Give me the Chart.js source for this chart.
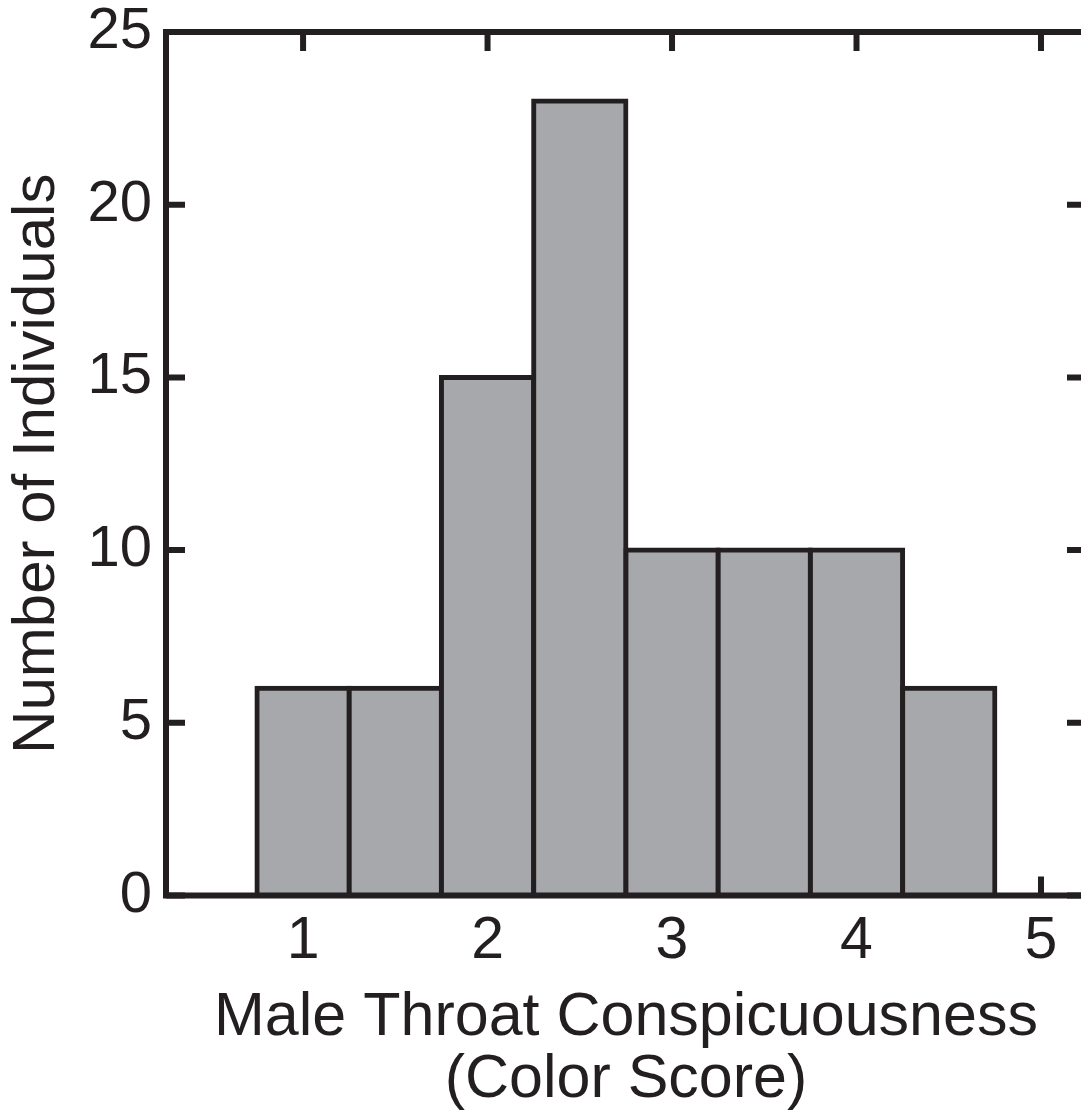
<!DOCTYPE html>
<html>
<head>
<meta charset="utf-8">
<script src="https://cdn.jsdelivr.net/npm/chart.js@4"></script>
<style>
  html, body { margin: 0; padding: 0; background: #fff; overflow: hidden; }
  #wrap { width: 1095px; height: 1116px; }
</style>
</head>
<body>
<div id="wrap"><canvas id="histChart" width="1095" height="1116"></canvas></div>
<script>
// data
var binCenters = [1, 1.5, 2, 2.5, 3, 3.5, 4, 4.5];
var counts = [6, 6, 15, 23, 10, 10, 10, 6];
var xTicks = [1, 2, 3, 4, 5];
var yTicks = [0, 5, 10, 15, 20, 25];

var ink = '#231f20';
var fontFam = "'Liberation Sans', Arial, Helvetica, sans-serif";

// inward ticks + box frame
var framePlugin = {
    id: 'frame',
    beforeDatasetsDraw: function(chart) {
        var ctx = chart.ctx, a = chart.chartArea;
        var xs = chart.scales.x, ys = chart.scales.y;
        var len = 19;
        ctx.save();
        ctx.strokeStyle = ink;
        ctx.lineWidth = 6;
        ctx.lineCap = 'butt';
        ctx.beginPath();
        xTicks.forEach(function(v) {
            var px = xs.getPixelForValue(v);
            ctx.moveTo(px, a.top); ctx.lineTo(px, a.top + len);
            ctx.moveTo(px, a.bottom); ctx.lineTo(px, a.bottom - len);
        });
        yTicks.forEach(function(v) {
            var py = ys.getPixelForValue(v);
            ctx.moveTo(a.left, py); ctx.lineTo(a.left + len, py);
            ctx.moveTo(a.right, py); ctx.lineTo(a.right - len, py);
        });
        ctx.stroke();
        ctx.restore();
    },
    afterDatasetsDraw: function(chart) {
        var ctx = chart.ctx, a = chart.chartArea;
        ctx.save();
        ctx.strokeStyle = ink;
        ctx.lineWidth = 6;
        ctx.strokeRect(a.left, a.top, a.right - a.left, a.bottom - a.top);
        ctx.restore();
    }
};

var ctx = document.getElementById('histChart').getContext('2d');
var histChart = new Chart(ctx, {
    type: 'bar',
    data: {
        datasets: [{
            data: binCenters.map(function(x, i) { return { x: x, y: counts[i] }; }),
            backgroundColor: '#a7a8ab',
            borderColor: ink,
            borderWidth: 5,
            inflateAmount: 2.5,
            barPercentage: 1,
            categoryPercentage: 1
        }]
    },
    options: {
        responsive: false,
        animation: false,
        layout: { padding: 0 },
        plugins: {
            legend: { display: false },
            tooltip: { enabled: false }
        },
        scales: {
            x: {
                type: 'linear',
                position: 'bottom',
                offset: false,
                min: 0.257,
                max: 5.244,
                afterBuildTicks: function(s) { s.ticks = xTicks.map(function(v) { return { value: v }; }); },
                afterFit: function(s) { s.height = 220.5; s.paddingLeft = 0; s.paddingRight = 0; },
                grid: { display: false, drawTicks: false },
                border: { display: false },
                ticks: {
                    color: ink,
                    padding: 17,
                    font: { family: fontFam, size: 59, lineHeight: 1 },
                    maxRotation: 0
                },
                title: {
                    display: true,
                    text: ['Male Throat Conspicuousness', '(Color Score)'],
                    color: ink,
                    font: { family: fontFam, size: 61, lineHeight: 1.01 },
                    padding: { top: 0, bottom: 5 }
                }
            },
            xTop: {
                type: 'linear',
                position: 'top',
                min: 0.257,
                max: 5.244,
                afterFit: function(s) { s.height = 32; s.paddingLeft = 0; s.paddingRight = 0; },
                grid: { display: false, drawTicks: false },
                border: { display: false },
                ticks: { display: false }
            },
            y: {
                type: 'linear',
                position: 'left',
                min: 0,
                max: 25,
                afterBuildTicks: function(s) { s.ticks = yTicks.map(function(v) { return { value: v }; }); },
                afterFit: function(s) { s.width = 166; s.paddingTop = 0; s.paddingBottom = 0; },
                grid: { display: false, drawTicks: false },
                border: { display: false },
                ticks: {
                    color: ink,
                    padding: 14,
                    font: { family: fontFam, size: 58, lineHeight: 1 }
                },
                title: {
                    display: true,
                    text: 'Number of Individuals',
                    color: ink,
                    font: { family: fontFam, size: 60, lineHeight: 1 },
                    padding: { top: 7.5, bottom: 0 }
                }
            },
            yRight: {
                type: 'linear',
                position: 'right',
                min: 0,
                max: 25,
                afterFit: function(s) { s.width = 9; s.paddingTop = 0; s.paddingBottom = 0; },
                grid: { display: false, drawTicks: false },
                border: { display: false },
                ticks: { display: false }
            }
        }
    },
    plugins: [framePlugin]
});
</script>
</body>
</html>
